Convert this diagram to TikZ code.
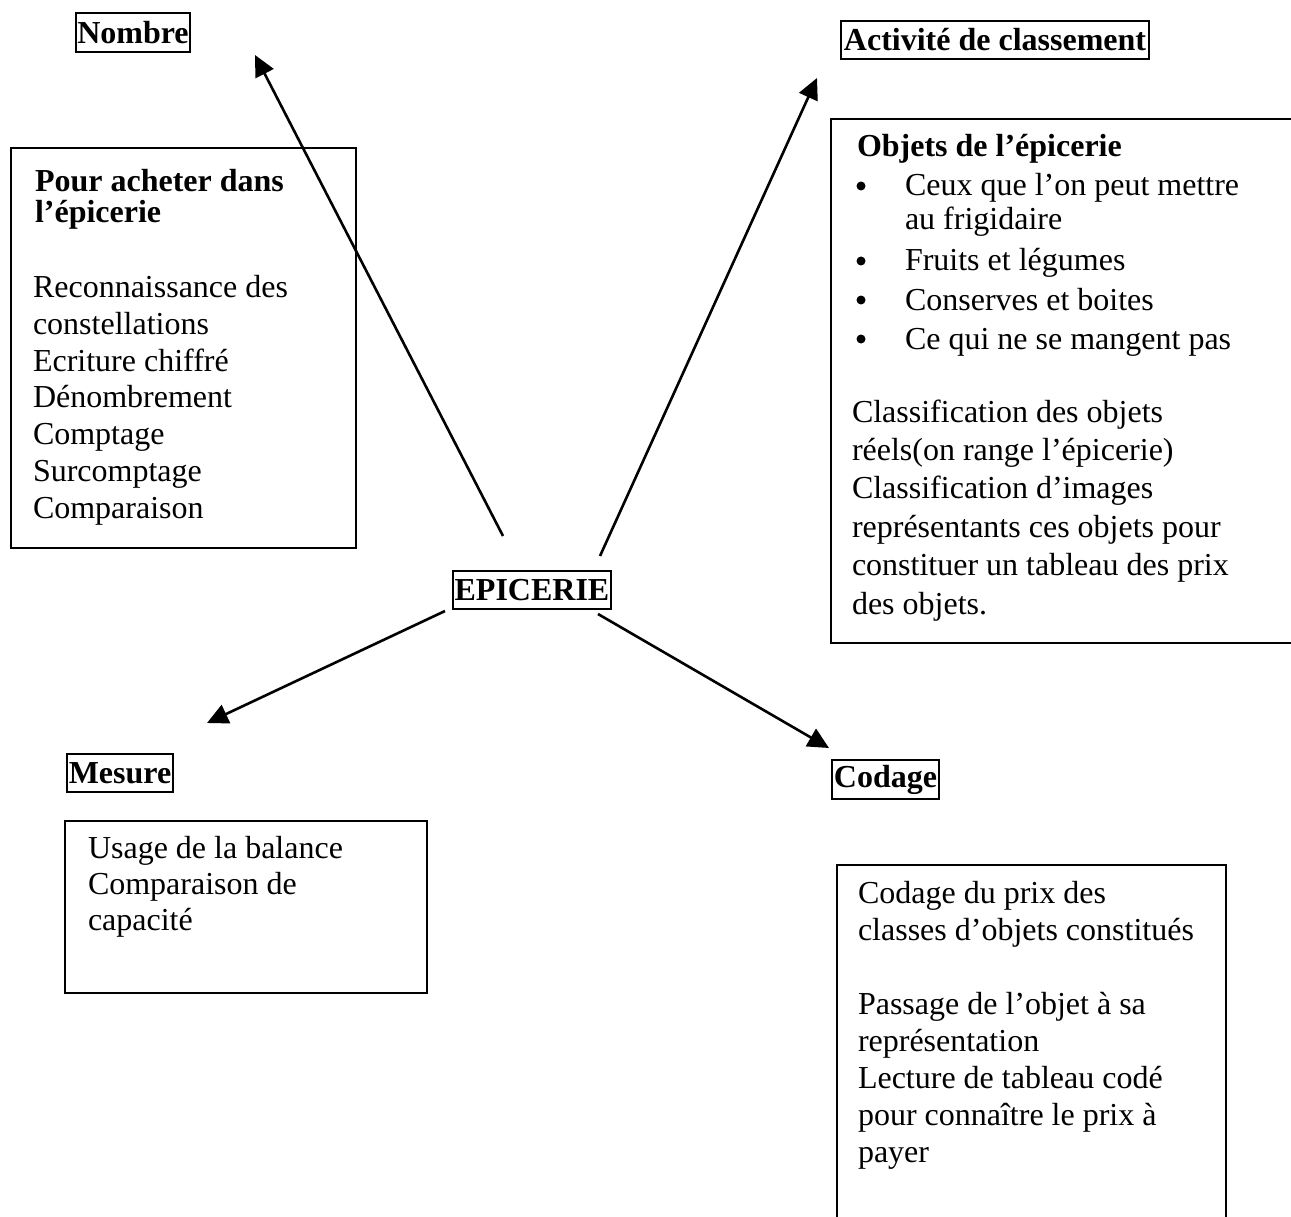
\documentclass[tikz,border=0pt]{standalone}
\usepackage{fontspec}
\setmainfont{Liberation Serif}
\usetikzlibrary{arrows.meta}
\begin{document}
\begin{tikzpicture}[x=1pt,y=-1pt,
  every node/.style={inner sep=0pt, outer sep=0pt, font=\fontsize{32}{36.7}\selectfont},
  title/.style={draw, line width=1.1pt, font=\fontsize{32}{36}\selectfont\bfseries},
  panel/.style={draw, line width=1.2pt},
  txt/.style={align=left, anchor=base west},
  dot/.style={circle, fill, minimum size=9pt},
  arr/.style={line width=2.6pt, -{Triangle[length=21pt,width=20pt]}}
]
\useasboundingbox (0,0) rectangle (1291,1217);

% title labels
\node[title, minimum width=114, minimum height=39] (nombre) at (133,32.5) {Nombre};
\node[title, minimum width=308, minimum height=38] (activite) at (995,40) {Activité de classement};
\node[title, minimum width=158, minimum height=38] (epi) at (532,590) {EPICERIE};
\node[title, minimum width=106, minimum height=38] (mesure) at (120,773) {Mesure};
\node[title, minimum width=107, minimum height=39] (codage) at (885.5,779.5) {Codage};

% panels
\draw[panel] (11,148) rectangle (356,548);
\draw[panel] (1291,119) -- (831,119) -- (831,643) -- (1291,643);
\draw[panel] (65,821) rectangle (427,993);
\draw[panel] (837,1217) -- (837,865) -- (1226,865) -- (1226,1217);

% left panel text (anchored at the baseline of the last line)
\node[txt, font=\fontsize{32}{32}\selectfont\bfseries] (nhead) at (35,223) {Pour acheter dans\\l’épicerie};
\node[txt] (nbody) at (33,518) {Reconnaissance des\\constellations\\Ecriture chiffré\\Dénombrement\\Comptage\\Surcomptage\\Comparaison};

% right panel text
\node[txt, font=\fontsize{32}{36}\selectfont\bfseries] (ahead) at (857,157) {Objets de l’épicerie};
\node[txt, font=\fontsize{32}{34}\selectfont] (b1) at (905,230) {Ceux que l’on peut mettre\\au frigidaire};
\node[txt] (b2) at (905,271) {Fruits et légumes};
\node[txt] (b3) at (905,310) {Conserves et boites};
\node[txt] (b4) at (905,349) {Ce qui ne se mangent pas};
\foreach \y/\n in {196/d1,271/d2,310/d3,349/d4}
  \node[dot] (\n) at (861,\y-10) {};
\node[txt, font=\fontsize{32}{38.4}\selectfont] (abody) at (852,614) {Classification des objets\\réels(on range l’épicerie)\\Classification d’images\\représentants ces objets pour\\constituer un tableau des prix\\des objets.};

% bottom left panel text
\node[txt, font=\fontsize{32}{36}\selectfont] (mbody) at (88,930) {Usage de la balance\\Comparaison de\\capacité};

% bottom right panel text
\node[txt, font=\fontsize{32}{37}\selectfont] (cbody1) at (858,940) {Codage du prix des\\classes d’objets constitués};
\node[txt, font=\fontsize{32}{37}\selectfont] (cbody2) at (858,1162) {Passage de l’objet à sa\\représentation\\Lecture de tableau codé\\pour connaître le prix à\\payer};

% arrows
\coordinate (s1) at (503,536);
\coordinate (t1) at (255,55);
\coordinate (s2) at (600,556);
\coordinate (t2) at (817,78);
\coordinate (s3) at (445,611);
\coordinate (t3) at (207,723);
\coordinate (s4) at (598,614);
\coordinate (t4) at (829,748);
\draw[arr] (s1) -- (t1);
\draw[arr] (s2) -- (t2);
\draw[arr] (s3) -- (t3);
\draw[arr] (s4) -- (t4);
\end{tikzpicture}
\end{document}
